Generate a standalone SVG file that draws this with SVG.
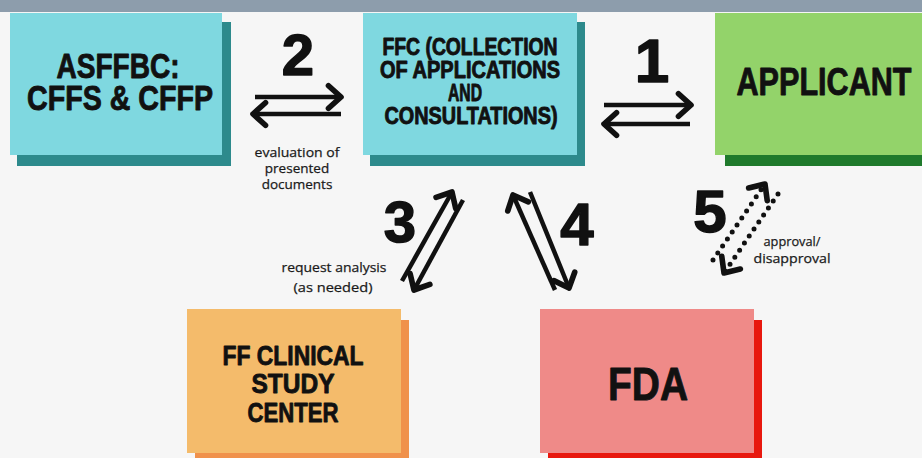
<svg xmlns="http://www.w3.org/2000/svg" width="922" height="458" viewBox="0 0 922 458">
<style>
.t{font-family:"Liberation Sans",Arial,sans-serif;font-weight:bold;fill:#111;stroke:#111;stroke-width:0.9;stroke-linejoin:round;text-anchor:middle}
.s{font-family:"Open Sans","Liberation Sans",sans-serif;font-size:13.5px;fill:#1a1a1a;stroke:#1a1a1a;stroke-width:0.25;text-anchor:middle}
.n{font-family:"Liberation Sans",Arial,sans-serif;font-weight:bold;fill:#111;stroke:#111;stroke-width:1.5;stroke-linejoin:round;text-anchor:middle}
.a{fill:none;stroke:#111;stroke-width:4.5}
.d{fill:none;stroke:#111;stroke-width:5;stroke-linecap:round;stroke-dasharray:0 8.5}
</style>
<defs>
<marker id="ah" markerUnits="userSpaceOnUse" markerWidth="30" markerHeight="30" viewBox="0 0 24 24" refX="20" refY="12" orient="auto" overflow="visible">
<path d="M10,3 L20,12 L10,21" fill="none" stroke="#111" stroke-width="4.5" stroke-linecap="round" stroke-linejoin="round"/>
</marker>
</defs>
<rect x="0" y="0" width="922" height="458" fill="#f6f6f6"/>
<rect x="0" y="0" width="922" height="12" fill="#8d9dac"/>

<g id="asffbc">
<rect x="17" y="22" width="214" height="144" fill="#2d8a8c"/>
<rect x="10" y="13" width="212" height="142" fill="#7fd8e0"/>
<text class="t" x="118" y="78" font-size="35" textLength="123" lengthAdjust="spacingAndGlyphs">ASFFBC:</text>
<text class="t" x="120" y="110" font-size="35" textLength="186" lengthAdjust="spacingAndGlyphs">CFFS &amp; CFFP</text>
</g>

<g id="ffc">
<rect x="370" y="22" width="215" height="144" fill="#2d8a8c"/>
<rect x="363" y="13" width="214" height="142" fill="#7fd8e0"/>
<text class="t" x="470" y="55" font-size="23" textLength="175" lengthAdjust="spacingAndGlyphs">FFC (COLLECTION</text>
<text class="t" x="470" y="78" font-size="23" textLength="180" lengthAdjust="spacingAndGlyphs">OF APPLICATIONS</text>
<text class="t" x="465" y="101" font-size="23" textLength="34" lengthAdjust="spacingAndGlyphs">AND</text>
<text class="t" x="471" y="124" font-size="23" textLength="173" lengthAdjust="spacingAndGlyphs">CONSULTATIONS)</text>
</g>

<g id="applicant">
<rect x="725" y="22" width="210" height="144" fill="#1f7a2c"/>
<rect x="715" y="13" width="210" height="142" fill="#93d36a"/>
<text class="t" x="824" y="95" font-size="39" textLength="175" lengthAdjust="spacingAndGlyphs">APPLICANT</text>
</g>

<g id="clinical">
<rect x="195" y="320" width="214" height="145" fill="#f0914b"/>
<rect x="187" y="309" width="214" height="144" fill="#f4bb6b"/>
<text class="t" x="293" y="365" font-size="28" textLength="141" lengthAdjust="spacingAndGlyphs">FF CLINICAL</text>
<text class="t" x="293" y="393" font-size="28" textLength="83" lengthAdjust="spacingAndGlyphs">STUDY</text>
<text class="t" x="293" y="422" font-size="28" textLength="91" lengthAdjust="spacingAndGlyphs">CENTER</text>
</g>

<g id="fda">
<rect x="548" y="320" width="214" height="145" fill="#e8180e"/>
<rect x="540" y="309" width="214" height="144" fill="#ef8a88"/>
<text class="t" x="648" y="400" font-size="46" textLength="80" lengthAdjust="spacingAndGlyphs">FDA</text>
</g>

<g id="connectors">
<line class="a" x1="255" y1="97" x2="341" y2="97" marker-end="url(#ah)"/>
<line class="a" x1="341" y1="114" x2="253" y2="114" marker-end="url(#ah)"/>
<text class="n" x="298" y="75" font-size="58">2</text>
<text class="s" x="297" y="157" textLength="85" lengthAdjust="spacingAndGlyphs">evaluation of</text>
<text class="s" x="297" y="173">presented</text>
<text class="s" x="297" y="189">documents</text>

<line class="a" x1="604" y1="105" x2="691" y2="105" marker-end="url(#ah)"/>
<line class="a" x1="690" y1="124" x2="604" y2="124" marker-end="url(#ah)"/>
<text class="n" x="652" y="82" font-size="62">1</text>

<line class="a" x1="402" y1="281" x2="452" y2="192" marker-end="url(#ah)"/>
<line class="a" x1="463" y1="200" x2="414" y2="290" marker-end="url(#ah)"/>
<text class="n" x="400" y="242" font-size="58">3</text>
<text class="s" x="334" y="272" textLength="105" lengthAdjust="spacingAndGlyphs">request analysis</text>
<text class="s" x="333" y="292" textLength="79" lengthAdjust="spacingAndGlyphs">(as needed)</text>

<line class="a" x1="555" y1="290" x2="513" y2="195" marker-end="url(#ah)"/>
<line class="a" x1="530" y1="192" x2="569" y2="288" marker-end="url(#ah)"/>
<text class="n" x="577" y="245" font-size="60">4</text>

<line class="d" x1="713" y1="260" x2="765" y2="184" marker-end="url(#ah)"/>
<line class="d" x1="778" y1="194" x2="724" y2="273" marker-end="url(#ah)"/>
<text class="n" x="710" y="232" font-size="60">5</text>
<text class="s" x="792" y="246" textLength="57" lengthAdjust="spacingAndGlyphs">approval/</text>
<text class="s" x="792" y="263" textLength="77" lengthAdjust="spacingAndGlyphs">disapproval</text>
</g>
</svg>
